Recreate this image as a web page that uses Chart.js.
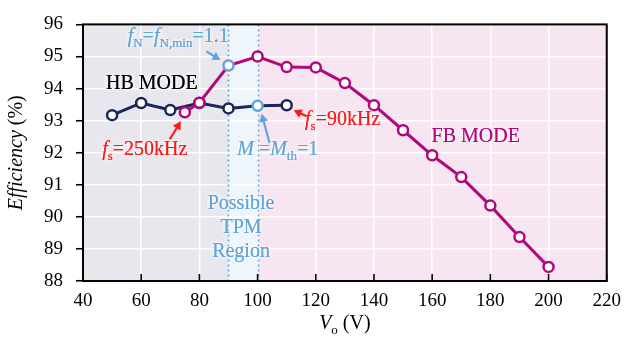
<!DOCTYPE html>
<html>
<head>
<meta charset="utf-8">
<script src="https://cdn.jsdelivr.net/npm/chart.js@4/dist/chart.umd.min.js"></script>
<style>
  html, body { margin: 0; padding: 0; background: #fff; }
</style>
</head>
<body>
<canvas id="effChart" width="630" height="337"></canvas>
<script>
// ── Data ─────────────────────────────────────────
const hbVo  = [50, 60, 70, 80, 90, 100, 110];
const hbEff = [93.17, 93.55, 93.33, 93.55, 93.38, 93.46, 93.48];

const fbVo  = [75, 80, 90, 100, 110, 120, 130, 140, 150, 160, 170, 180, 190, 200];
const fbEff = [93.26, 93.56, 94.72, 95.0, 94.67, 94.66, 94.17, 93.48, 92.7, 91.92, 91.24, 90.35, 89.37, 88.44];

const xRange = [40, 220];
const yRange = [88, 96];

// operating regions along Vo
const hbRegion  = [40, 90];
const tpmRegion = [90, 100];
const fbRegion  = [100, 220];

// ── Style ────────────────────────────────────────
const NAVY    = '#19275a';
const MAGENTA = '#b1097c';
const LBLUE   = '#5fa5da';
const RED     = '#fb1a1a';
const SERIF   = "'Liberation Serif','Times New Roman',serif";

const hbPts = hbVo.map((v, i) => ({ x: v, y: hbEff[i] }));
const fbPts = fbVo.map((v, i) => ({ x: v, y: fbEff[i] }));

// text runs: [text, style]  style: '' upright, 'i' italic, 's' subscript
const txtHB    = [['HB MODE', '']];
const txtFB    = [['FB MODE', '']];
const txtFN    = [['f', 'i'], ['N', 's'], ['=', ''], ['f', 'i'], ['N,min', 's'], ['=1.1', '']];
const txtFs250 = [['f', 'i'], ['s', 's'], ['=250kHz', '']];
const txtFs90  = [['f', 'i'], ['s', 's'], ['=90kHz', '']];
const txtM     = [['M', 'i'], [' =', ''], ['M', 'i'], ['th', 's'], ['=1', '']];
const txtTPM   = ['Possible', 'TPM', 'Region'];
const txtXAxis = [['V', 'i'], ['o', 's'], [' (V)', '']];
const txtYAxis = [['Efficiency', 'i'], [' (%)', '']];

// ── Helpers ──────────────────────────────────────
function runFont(style, size) {
  if (style === 's') return `${Math.round(size * 0.66)}px ${SERIF}`;
  if (style === 'i') return `italic ${size}px ${SERIF}`;
  return `${size}px ${SERIF}`;
}

function richWidth(ctx, runs, size) {
  let w = 0;
  runs.forEach(([t, st]) => { ctx.font = runFont(st, size); w += ctx.measureText(t).width; });
  return w;
}

function drawRich(ctx, runs, x, y, color, size, align, glow) {
  const w = richWidth(ctx, runs, size);
  let cx = align === 'center' ? x - w / 2 : x;
  ctx.save();
  ctx.textAlign = 'left';
  ctx.textBaseline = 'alphabetic';
  ctx.fillStyle = color;
  if (glow) { ctx.shadowColor = 'rgba(255,255,255,1)'; ctx.shadowBlur = 5; }
  runs.forEach(([t, st]) => {
    ctx.font = runFont(st, size);
    const dy = st === 's' ? size * 0.24 : 0;
    ctx.fillText(t, cx, y + dy);
    if (glow) ctx.fillText(t, cx, y + dy);
    cx += ctx.measureText(t).width;
  });
  ctx.restore();
}

// arrow pointing at a data point: tip and tail given as pixel offsets from it
function drawArrow(ctx, px, py, tip, tail, color) {
  const tx = px + tip[0], ty = py + tip[1];
  const sx = px + tail[0], sy = py + tail[1];
  const a = Math.atan2(ty - sy, tx - sx);
  const hl = 8, hw = 4.5;
  ctx.save();
  ctx.strokeStyle = color;
  ctx.fillStyle = color;
  ctx.lineWidth = 2.2;
  ctx.beginPath();
  ctx.moveTo(sx, sy);
  ctx.lineTo(tx - Math.cos(a) * hl * 0.8, ty - Math.sin(a) * hl * 0.8);
  ctx.stroke();
  ctx.beginPath();
  ctx.moveTo(tx, ty);
  ctx.lineTo(tx - Math.cos(a) * hl - Math.sin(a) * hw, ty - Math.sin(a) * hl + Math.cos(a) * hw);
  ctx.lineTo(tx - Math.cos(a) * hl + Math.sin(a) * hw, ty - Math.sin(a) * hl - Math.cos(a) * hw);
  ctx.closePath();
  ctx.fill();
  ctx.restore();
}

// ── Plot decorations ─────────────────────────────
const decor = {
  id: 'decor',
  beforeDraw(chart) {
    const { ctx, chartArea: a, scales: { x } } = chart;
    const band = (r, c) => {
      ctx.fillStyle = c;
      ctx.fillRect(x.getPixelForValue(r[0]), a.top, x.getPixelForValue(r[1]) - x.getPixelForValue(r[0]), a.bottom - a.top);
    };
    ctx.save();
    band(hbRegion, '#e7e7ed');
    band(tpmRegion, '#eef5fb');
    band(fbRegion, '#f7e5f1');
    ctx.restore();
  },
  beforeDatasetsDraw(chart) {
    const { ctx, chartArea: a, scales: { x } } = chart;
    ctx.save();
    ctx.strokeStyle = LBLUE;
    ctx.lineWidth = 1.6;
    ctx.setLineDash([2, 3]);
    tpmRegion.forEach(v => {
      const px = Math.round(x.getPixelForValue(v)) + 0.5;
      ctx.beginPath();
      ctx.moveTo(px, a.top);
      ctx.lineTo(px, a.bottom);
      ctx.stroke();
    });
    ctx.restore();

    // region texts sit under the curves
    const X = v => x.getPixelForValue(v), Y = v => chart.scales.y.getPixelForValue(v);
    ctx.save();
    ctx.font = `20px ${SERIF}`;
    ctx.textAlign = 'center';
    ctx.fillStyle = LBLUE;
    ctx.shadowColor = '#fff';
    ctx.shadowBlur = 5;
    const cx = X((tpmRegion[0] + tpmRegion[1]) / 2) - 2;
    txtTPM.forEach((t, i) => {
      const y = Y(90.25) + i * 24;
      ctx.fillText(t, cx, y);
      ctx.fillText(t, cx, y);
    });
    ctx.restore();
  },
  afterDatasetsDraw(chart) {
    const { ctx, scales: { x, y } } = chart;
    const X = v => x.getPixelForValue(v), Y = v => y.getPixelForValue(v);

    drawRich(ctx, txtHB, X(47.9), Y(93.99), '#000', 20, 'left', true);
    drawRich(ctx, txtFB, X(159.8), Y(92.34), MAGENTA, 20, 'left', true);
    drawRich(ctx, txtFN, X(55.4), Y(95.45), LBLUE, 20, 'left', true);
    drawRich(ctx, txtFs250, X(46.6), Y(91.93), RED, 20, 'left', true);
    drawRich(ctx, txtFs90, X(116.3), Y(92.85), RED, 20, 'left', true);
    drawRich(ctx, txtM, X(93.0), Y(91.93), LBLUE, 20, 'left', true);

    // arrows toward the marked operating points
    drawArrow(ctx, X(fbVo[2]), Y(fbEff[2]), [-8, -5.5], [-22, -14], LBLUE);
    drawArrow(ctx, X(hbVo[5]), Y(hbEff[5]), [4, 8], [12, 37], LBLUE);
    drawArrow(ctx, X(fbVo[0]), Y(fbEff[0]), [-4, 9], [-15, 27], RED);
    drawArrow(ctx, X(hbVo[6]), Y(hbEff[6]), [7, 5], [20, 11], RED);
  },
  afterDraw(chart) {
    const { ctx, chartArea: a, scales: { x } } = chart;
    ctx.save();
    // inward ticks on the Vo axis
    ctx.strokeStyle = '#000';
    ctx.lineWidth = 1.6;
    x.ticks.forEach(t => {
      const px = x.getPixelForValue(t.value);
      ctx.beginPath();
      ctx.moveTo(px, a.bottom);
      ctx.lineTo(px, a.bottom - 7);
      ctx.stroke();
    });
    // frame
    ctx.lineWidth = 2;
    ctx.strokeRect(a.left, a.top, a.right - a.left, a.bottom - a.top);
    ctx.restore();

    // axis titles
    drawRich(ctx, txtXAxis, (a.left + a.right) / 2, 329, '#000', 20, 'center', false);
    ctx.save();
    ctx.translate(22, (a.top + a.bottom) / 2);
    ctx.rotate(-Math.PI / 2);
    drawRich(ctx, txtYAxis, 0, 0, '#000', 20, 'center', false);
    ctx.restore();
  },
};

// ── Chart ────────────────────────────────────────
new Chart(document.getElementById('effChart'), {
  type: 'line',
  data: {
    datasets: [
      {
        label: 'FB mode',
        data: fbPts,
        borderColor: MAGENTA,
        borderWidth: 3,
        pointRadius: 5,
        pointBorderWidth: 2.5,
        pointBackgroundColor: '#fff',
        pointBorderColor: fbVo.map(v => (v === tpmRegion[0] ? LBLUE : MAGENTA)),
        tension: 0,
      },
      {
        label: 'HB mode',
        data: hbPts,
        borderColor: NAVY,
        borderWidth: 3,
        pointRadius: 5,
        pointBorderWidth: 2.5,
        pointBackgroundColor: '#fff',
        pointBorderColor: hbVo.map(v => (v === tpmRegion[1] ? LBLUE : NAVY)),
        tension: 0,
      },
    ],
  },
  options: {
    responsive: false,
    animation: false,
    devicePixelRatio: 1,
    layout: { padding: { top: 12, right: 18, left: 0, bottom: 0 } },
    plugins: { legend: { display: false }, tooltip: { enabled: false } },
    scales: {
      x: {
        type: 'linear',
        min: xRange[0],
        max: xRange[1],
        ticks: { stepSize: 20, color: '#000', font: { family: SERIF, size: 19 }, padding: 9, maxRotation: 0 },
        grid: { color: '#fff', lineWidth: 1.5, drawTicks: false },
        border: { display: false },
        afterFit: s => { s.height = 56; },
      },
      y: {
        min: yRange[0],
        max: yRange[1],
        ticks: { stepSize: 1, color: '#000', font: { family: SERIF, size: 19 }, padding: 13 },
        grid: { color: '#fff', lineWidth: 1.5, tickColor: '#000', tickLength: 7, tickWidth: 1.6 },
        border: { display: false },
        afterFit: s => { s.width = 83; },
      },
    },
  },
  plugins: [decor],
});
</script>
</body>
</html>
